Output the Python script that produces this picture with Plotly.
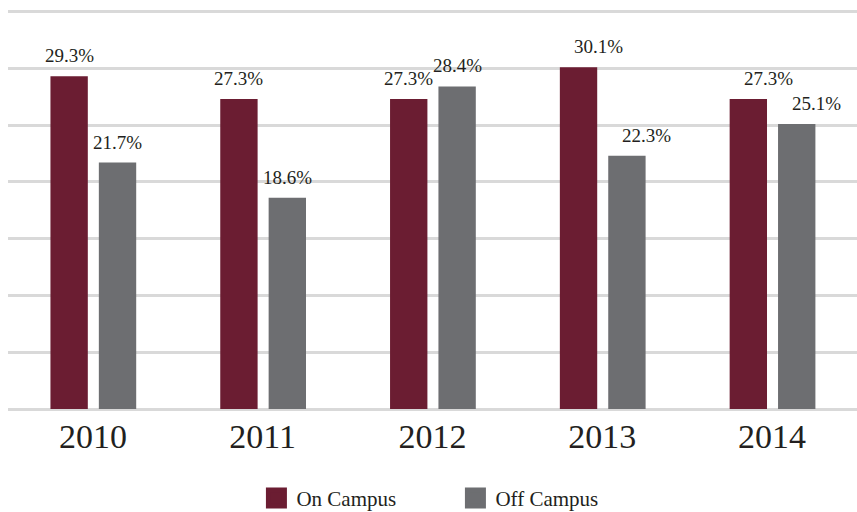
import plotly.graph_objects as go

years = ["2010", "2011", "2012", "2013", "2014"]
on_campus = [29.3, 27.3, 27.3, 30.1, 27.3]
off_campus = [21.7, 18.6, 28.4, 22.3, 25.1]
series_names = ["On Campus", "Off Campus"]

ON_COLOR = "#6b1d32"
OFF_COLOR = "#6d6e71"
FONT = "Liberation Serif"
TEXT_COLOR = "#231f20"

BAR_W = 0.22
OFFSETS = [-0.25, 0.035]
label_xshift = [0, 0, 0, 20, 20]

fig = go.Figure()
for vals, name, color, off in zip([on_campus, off_campus], series_names,
                                  [ON_COLOR, OFF_COLOR], OFFSETS):
    fig.add_trace(go.Bar(x=years, y=vals, name=name, marker_color=color,
                         marker_line_width=0, width=BAR_W, offset=off,
                         showlegend=False, hoverinfo="x+y"))
    # legend proxy with larger square symbol
    fig.add_trace(go.Scatter(x=[None], y=[None], mode="markers", name=name,
                             marker=dict(symbol="square", size=22, color=color,
                                         line=dict(width=5, color=color)),
                             showlegend=True))
    for i, v in enumerate(vals):
        fig.add_annotation(x=i + off + BAR_W / 2, y=v, xref="x", yref="y",
                           text=f"{v}%", showarrow=False, yanchor="bottom",
                           yshift=8, xshift=label_xshift[i],
                           font=dict(family=FONT, size=19, color=TEXT_COLOR))

fig.update_layout(
    width=857, height=512,
    margin=dict(l=8, r=0, t=6.5, b=103, autoexpand=False),
    paper_bgcolor="white", plot_bgcolor="white",
    barmode="overlay",
    font=dict(family=FONT, color=TEXT_COLOR),
    showlegend=True,
    legend=dict(orientation="h", x=0.527, xanchor="center", y=-0.222,
                yanchor="middle", font=dict(family=FONT, size=21, color=TEXT_COLOR),
                itemsizing="trace", entrywidth=154, entrywidthmode="pixels"),
)
fig.update_xaxes(type="category", range=[-0.5, 4.5], showgrid=False,
                 showline=False, ticks="", ticklabelstandoff=4, automargin=False,
                 tickfont=dict(family=FONT, size=34, color=TEXT_COLOR))
fig.update_yaxes(range=[0, 35.4], tick0=0, dtick=5, showgrid=True, gridcolor="#d9d9d9",
                 gridwidth=2.5, zeroline=True, zerolinecolor="#d9d9d9",
                 zerolinewidth=2.5, showticklabels=False, fixedrange=True,
                 automargin=False)

fig.write_html("out.html", config={"displayModeBar": False},
               post_script="document.body.style.margin='0';document.body.style.overflow='hidden';")
